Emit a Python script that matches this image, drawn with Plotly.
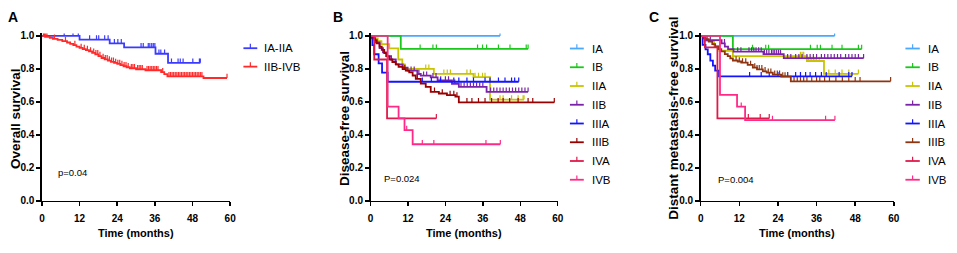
import numpy as np
import plotly.graph_objects as go

W, H = 957, 253
FONT = "Liberation Sans, Arial, sans-serif"

# ---------------- Panel A : Overall survival ----------------
A_labels = ["IA-IIA", "IIB-IVB"]
A_colors = ["#3b3bff", "#ff2a2a"]

A_IAIIA_t = [12.0, 21.6, 26.2, 36.2, 40.2]
A_IAIIA_s = [0.978, 0.955, 0.931, 0.892, 0.837]
A_IAIIA_end = 50.5
A_IAIIA_cens = [7.1, 9.9, 11.6, 15.2, 17.4, 18.1, 20.0, 21.1, 23.1, 24.2, 25.3, 31.6, 32.3, 33.9,
                34.4, 35.0, 35.5, 36.0, 37.3, 37.9, 39.1, 41.3, 43.4, 44.1, 45.0, 48.1, 50.2, 50.5]

A_IIBIVB_t = [1.0, 2.5, 3.5, 5.0, 6.5, 8.0, 9.0, 10.0, 11.0, 12.0, 13.0, 14.0, 15.0, 16.0, 17.0, 18.0,
              19.0, 20.0, 21.0, 22.0, 23.0, 24.0, 25.0, 26.0, 27.0, 28.0, 30.0, 33.0, 38.0, 39.0, 40.0, 51.5]
A_IIBIVB_s = [0.995, 0.988, 0.982, 0.976, 0.968, 0.96, 0.952, 0.944, 0.935, 0.927, 0.92, 0.914, 0.906,
              0.897, 0.888, 0.878, 0.866, 0.858, 0.85, 0.843, 0.836, 0.83, 0.823, 0.816, 0.81, 0.804,
              0.798, 0.792, 0.78, 0.768, 0.755, 0.745]
A_IIBIVB_end = 59.0
A_IIBIVB_cens = [0.5, 0.8, 1.2, 1.6, 4.0, 7.5, 10.5, 12.5, 13.5, 14.5, 15.5, 16.5, 17.2, 17.8, 18.5,
                 19.5, 20.2, 20.8, 21.5, 22.2, 22.8, 23.5, 24.2, 24.8, 25.5, 26.2, 26.8, 27.5, 28.5,
                 29.0, 29.5, 30.5, 31.0, 31.5, 32.0, 33.5, 34.0, 34.5, 35.0, 35.5, 36.0, 36.5, 37.0,
                 38.5, 40.5, 41.0, 41.5, 42.0, 42.5, 43.0, 43.5, 44.0, 44.5, 45.0, 45.5, 46.0, 46.5,
                 47.0, 47.5, 48.0, 48.5, 49.0, 49.5, 50.0, 50.5, 51.0, 59.0]

# ---------------- Stage labels/colours for B and C ----------------
stage_labels = ["IA", "IB", "IIA", "IIB", "IIIA", "IIIB", "IVA", "IVB"]
B_colors = ["#4aa8ff", "#19c819", "#c9c400", "#7a22a8", "#1414ff", "#990000", "#de1a4a", "#ff2a88"]
C_colors = ["#4aa8ff", "#19c819", "#c9c400", "#7a22a8", "#1414ff", "#8f3410", "#de1a4a", "#ff2a88"]

# ---------------- Panel B : Disease-free survival ----------------
B_IA_t, B_IA_s, B_IA_end, B_IA_cens = [], [], 41.5, [41.5]
B_IB_t, B_IB_s, B_IB_end = [9.7], [0.922], 50.5
B_IB_cens = [15.9, 20.0, 21.1, 34.3, 35.9, 37.2, 41.0, 44.7, 49.9, 50.5]
B_IIA_t = [1.0, 2.3, 3.5, 6.0, 8.9, 10.2, 11.0, 20.3, 33.0, 38.3]
B_IIA_s = [0.985, 0.969, 0.95, 0.925, 0.857, 0.828, 0.80, 0.77, 0.75, 0.614]
B_IIA_end = 49.2
B_IIA_cens = [17.7, 18.7, 23.5, 24.6, 25.6, 30.9, 32.0, 33.5, 34.6, 35.9, 36.7, 41.5, 42.5, 45.2, 47.3, 48.9, 49.2]
B_IIB_t = [0.5, 1.5, 2.9, 4.0, 5.0, 6.6, 8.1, 10.3, 11.9, 15.0, 16.1, 19.3, 21.5, 26.1, 28.3, 37.2]
B_IIB_s = [0.985, 0.96, 0.926, 0.9, 0.877, 0.857, 0.828, 0.808, 0.789, 0.769, 0.759, 0.749, 0.73, 0.71, 0.691, 0.661]
B_IIB_end = 50.5
B_IIB_cens = [13.0, 14.0, 15.5, 17.0, 18.0, 20.0, 21.0, 22.5, 24.0, 25.0, 27.0, 29.0, 30.0, 31.0, 32.0,
              33.0, 34.0, 35.0, 36.0, 38.5, 39.5, 40.5, 41.5, 42.5, 43.5, 44.5, 45.5, 46.5, 47.5, 48.5, 49.5, 50.5]
B_IIIA_t = [0.6, 1.2, 2.6, 3.7, 5.5]
B_IIIA_s = [0.944, 0.889, 0.833, 0.778, 0.722]
B_IIIA_end = 47.5
B_IIIA_cens = [16.6, 19.5, 22.4, 26.7, 28.3, 30.9, 33.0, 36.7, 38.3, 41.0, 43.1, 45.2, 46.2, 47.5]
B_IIIB_t = [0.5, 1.3, 2.0, 2.9, 3.6, 4.4, 5.2, 6.0, 7.0, 8.1, 9.0, 10.3, 11.3, 12.4, 13.5, 14.5, 16.1,
            17.7, 19.3, 21.9, 24.5, 27.2, 28.3]
B_IIIB_s = [0.99, 0.975, 0.955, 0.935, 0.915, 0.896, 0.876, 0.857, 0.842, 0.828, 0.813, 0.799, 0.789,
            0.779, 0.76, 0.74, 0.711, 0.691, 0.661, 0.651, 0.641, 0.632, 0.597]
B_IIIB_end = 58.9
B_IIIB_cens = [11.0, 15.0, 20.5, 23.0, 25.5, 26.7, 27.7, 30.9, 32.5, 34.6, 36.7, 38.8, 40.9, 42.5, 44.6,
               47.3, 50.5, 52.0, 58.9]
B_IVA_t, B_IVA_s, B_IVA_end, B_IVA_cens = [1.2, 5.3], [0.857, 0.5], 21.1, [21.1]
B_IVB_t = [5.5, 9.0, 10.9, 13.5]
B_IVB_s = [0.571, 0.5, 0.429, 0.343]
B_IVB_end = 41.6
B_IVB_cens = [11.6, 16.6, 20.3, 37.0, 41.6]

# ---------------- Panel C : Distant metastasis-free survival ----------------
C_IA_t, C_IA_s, C_IA_end, C_IA_cens = [], [], 41.6, [41.6]
C_IB_t, C_IB_s, C_IB_end = [10.0], [0.92], 50.0
C_IB_cens = [16.1, 20.2, 21.1, 34.1, 36.2, 37.2, 40.8, 43.9, 49.0, 50.0]
C_IIA_t = [1.2, 4.2, 5.8, 10.0, 33.0, 38.3]
C_IIA_s = [0.97, 0.94, 0.91, 0.878, 0.848, 0.77]
C_IIA_end = 49.0
C_IIA_cens = [31.0, 31.5, 32.0, 33.5, 34.0, 34.5, 35.0, 35.5, 36.0, 36.8, 39.8, 41.8, 43.9, 46.0, 49.0]
C_IIB_t = [0.8, 1.5, 6.5, 7.5, 8.5, 10.2, 19.5, 25.8]
C_IIB_s = [0.985, 0.975, 0.955, 0.935, 0.92, 0.905, 0.89, 0.865]
C_IIB_end = 50.6
C_IIB_cens = [2.0, 3.0, 7.4, 11.5, 12.5, 15.0, 15.8, 16.5, 17.2, 18.0, 18.8, 19.8, 20.5, 21.2, 22.0, 22.5,
              23.0, 23.6, 24.2, 24.8, 27.0, 28.0, 29.5, 30.5, 31.5, 33.0, 34.0, 35.0, 36.0, 37.5, 38.5,
              39.5, 40.5, 41.5, 42.5, 43.5, 45.0, 46.0, 47.0, 48.0, 49.0, 50.6]
C_IIIA_t = [0.6, 1.5, 2.2, 3.0, 3.8, 4.5, 5.7]
C_IIIA_s = [0.946, 0.918, 0.889, 0.85, 0.82, 0.79, 0.755]
C_IIIA_end = 47.0
C_IIIA_cens = [15.2, 18.8, 21.3, 24.0, 27.0, 29.5, 31.0, 32.6, 34.0, 35.7, 37.5, 39.0, 43.0, 46.0, 47.0]
C_IIIB_t = [0.8, 1.5, 2.5, 3.6, 4.5, 5.5, 6.4, 7.5, 8.4, 9.2, 10.0, 11.5, 12.6, 14.6, 16.2, 17.5, 19.3,
            20.5, 22.4, 25.0, 28.0]
C_IIIB_s = [0.99, 0.98, 0.965, 0.95, 0.935, 0.92, 0.906, 0.89, 0.877, 0.864, 0.851, 0.845, 0.838, 0.824,
            0.808, 0.797, 0.785, 0.777, 0.765, 0.753, 0.725]
C_IIIB_end = 59.0
C_IIIB_cens = [11.0, 12.0, 13.0, 14.0, 15.5, 16.8, 17.5, 18.2, 19.0, 20.0, 21.0, 21.8, 23.0, 23.8, 24.5,
               25.5, 26.2, 27.0, 29.0, 30.0, 31.0, 32.0, 33.0, 34.5, 36.0, 37.0, 38.5, 40.0, 42.0, 44.0,
               46.0, 48.0, 49.5, 59.0]
C_IVA_t, C_IVA_s, C_IVA_end, C_IVA_cens = [1.3, 5.2], [0.93, 0.5], 21.3, [14.8, 18.5, 21.3]
C_IVB_t = [6.0, 11.3, 13.8]
C_IVB_s = [0.643, 0.571, 0.49]
C_IVB_end = 41.7
C_IVB_cens = [12.6, 22.3, 38.8, 41.7]

x_ticks = [0, 12, 24, 36, 48, 60]
y_ticks = [0.0, 0.2, 0.4, 0.6, 0.8, 1.0]
p_texts = ["p=0.04", "P=0.024", "P=0.004"]
y_titles = ["Overall survival", "Disease-free survival", "Distant metastasis-free survival"]
panel_letters = ["A", "B", "C"]

panels = [
    dict(labels=A_labels, colors=A_colors, series=[
        (A_IAIIA_t, A_IAIIA_s, A_IAIIA_end, A_IAIIA_cens),
        (A_IIBIVB_t, A_IIBIVB_s, A_IIBIVB_end, A_IIBIVB_cens)]),
    dict(labels=stage_labels, colors=B_colors, series=[
        (B_IA_t, B_IA_s, B_IA_end, B_IA_cens), (B_IB_t, B_IB_s, B_IB_end, B_IB_cens),
        (B_IIA_t, B_IIA_s, B_IIA_end, B_IIA_cens), (B_IIB_t, B_IIB_s, B_IIB_end, B_IIB_cens),
        (B_IIIA_t, B_IIIA_s, B_IIIA_end, B_IIIA_cens), (B_IIIB_t, B_IIIB_s, B_IIIB_end, B_IIIB_cens),
        (B_IVA_t, B_IVA_s, B_IVA_end, B_IVA_cens), (B_IVB_t, B_IVB_s, B_IVB_end, B_IVB_cens)]),
    dict(labels=stage_labels, colors=C_colors, series=[
        (C_IA_t, C_IA_s, C_IA_end, C_IA_cens), (C_IB_t, C_IB_s, C_IB_end, C_IB_cens),
        (C_IIA_t, C_IIA_s, C_IIA_end, C_IIA_cens), (C_IIB_t, C_IIB_s, C_IIB_end, C_IIB_cens),
        (C_IIIA_t, C_IIIA_s, C_IIIA_end, C_IIIA_cens), (C_IIIB_t, C_IIIB_s, C_IIIB_end, C_IIIB_cens),
        (C_IVA_t, C_IVA_s, C_IVA_end, C_IVA_cens), (C_IVB_t, C_IVB_s, C_IVB_end, C_IVB_cens)]),
]

# ---------------- geometry (pixels) ----------------
plot_left = [39.3, 371.0, 704.3]
plot_right = [229.3, 560.0, 899.3]
plot_bottom, plot_top = 204.3, 34.0   # y=0 and y=1.0
YMAX = 1.015
legend_line_x = [(242.7, 256.7), (572.3, 586.3), (911.0, 925.5)]
legend_text_x = [261.7, 593.0, 931.5]
legend_y0, legend_dy = [46.7, 47.0, 47.0], [19.0, 19.36, 19.36]
p_pos = [(53, 175), (383, 181), (720, 182)]
ytitle_x = [12, 344, 677]
letter_x = [10.5, 338, 657]


def px(x):
    return x / W


def py(y):
    return 1 - y / H


fig = go.Figure()
layout = dict(width=W, height=H, margin=dict(l=0, r=0, t=0, b=0),
              paper_bgcolor="white", plot_bgcolor="white", showlegend=False,
              font=dict(family=FONT, color="black"))
shapes, annotations = [], []
unit = plot_bottom - plot_top
top_px = plot_bottom - YMAX * unit

for i, panel in enumerate(panels):
    sfx = "" if i == 0 else str(i + 1)
    xref, yref = "x" + sfx, "y" + sfx
    layout["xaxis" + sfx] = dict(
        domain=[px(plot_left[i]), px(plot_right[i])], range=[0, 60], anchor=yref,
        tickvals=x_ticks, ticks="outside", ticklen=4, tickwidth=1.5, tickcolor="black",
        showline=True, linewidth=1.5, linecolor="black", showgrid=False, zeroline=False,
        tickfont=dict(family=FONT, size=10, weight="bold", color="black"), ticklabelstandoff=4)
    layout["yaxis" + sfx] = dict(
        domain=[py(plot_bottom), py(top_px)], range=[0, YMAX], anchor=xref,
        tickvals=y_ticks, tickformat=".1f", ticks="outside", ticklen=4, tickwidth=1.5,
        tickcolor="black", showline=True, linewidth=1.5, linecolor="black", showgrid=False,
        zeroline=False, tickfont=dict(family=FONT, size=10, weight="bold", color="black"))

    for k, ((t, s, end, cens), lab, col) in enumerate(zip(panel["series"], panel["labels"], panel["colors"])):
        xs = [0.0] + list(t) + [end]
        ys = [1.0] + list(s) + [([1.0] + list(s))[-1]]
        fig.add_trace(go.Scatter(x=xs, y=ys, mode="lines", line=dict(color=col, width=1.8, shape="hv"),
                                 name=lab, xaxis=xref, yaxis=yref, hoverinfo="skip"))
        steps_t = np.array([0.0] + list(t))
        steps_s = np.array([1.0] + list(s))
        cy = steps_s[np.searchsorted(steps_t, np.array(cens), side="right") - 1]
        fig.add_trace(go.Scatter(x=cens, y=cy, mode="markers", marker=dict(size=1, opacity=0),
                                 error_y=dict(type="constant", value=0.026, valueminus=0, symmetric=False,
                                              width=0, thickness=1.2, color=col),
                                 name=lab + " censored", xaxis=xref, yaxis=yref, hoverinfo="skip"))
        # legend entry
        ly = legend_y0[i] + k * legend_dy[i]
        x0, x1 = legend_line_x[i]
        shapes.append(dict(type="line", xref="paper", yref="paper", x0=px(x0), x1=px(x1),
                           y0=py(ly), y1=py(ly), line=dict(color=col, width=1.8)))
        xm = (x0 + x1) / 2
        shapes.append(dict(type="line", xref="paper", yref="paper", x0=px(xm), x1=px(xm),
                           y0=py(ly), y1=py(ly - 4.5), line=dict(color=col, width=1.2)))
        annotations.append(dict(text=lab, x=px(legend_text_x[i]), y=py(ly), xref="paper", yref="paper",
                                xanchor="left", yanchor="middle", showarrow=False,
                                font=dict(family=FONT, size=11.5, color="black")))

    cx = (plot_left[i] + plot_right[i]) / 2
    annotations.append(dict(text="Time (months)", x=px(cx), y=py(238), xref="paper", yref="paper",
                            xanchor="center", yanchor="middle", showarrow=False,
                            font=dict(family=FONT, size=11, weight="bold", color="black")))
    annotations.append(dict(text=y_titles[i], x=px(ytitle_x[i]), y=py(119), xref="paper", yref="paper",
                            xanchor="center", yanchor="middle", textangle=-90, showarrow=False,
                            font=dict(family=FONT, size=13.5, weight="bold", color="black")))
    annotations.append(dict(text=p_texts[i], x=px(p_pos[i][0]), y=py(p_pos[i][1]), xref="paper",
                            yref="paper", xanchor="left", yanchor="middle", showarrow=False,
                            font=dict(family=FONT, size=9.5, color="black")))
    annotations.append(dict(text=panel_letters[i], x=px(letter_x[i]), y=py(14), xref="paper", yref="paper",
                            xanchor="center", yanchor="middle", showarrow=False,
                            font=dict(family=FONT, size=14, weight="bold", color="black")))

layout["shapes"] = shapes
layout["annotations"] = annotations
fig.update_layout(**layout)
fig.write_html("out.html", config={"displayModeBar": False, "staticPlot": True},
               post_script="document.body.style.margin='0';document.body.style.overflow='hidden';")
